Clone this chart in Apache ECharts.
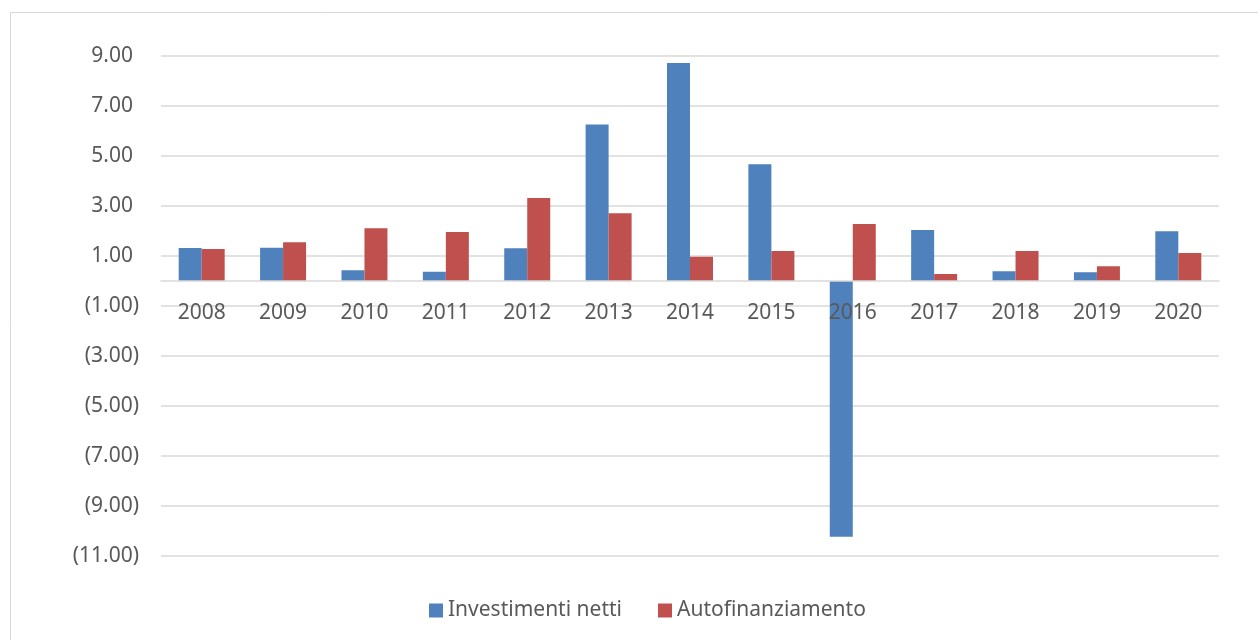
<!doctype html>
<html>
    <head>
        <meta charset="utf-8">
        <title>Investimenti netti / Autofinanziamento</title>
        <style>
            html, body { margin: 0; padding: 0; background: #fff; }
            #main { width: 1258px; height: 640px; }
        </style>
    </head>
    <body>
        <div id="main"></div>
        <script src="https://cdn.jsdelivr.net/npm/echarts@6/dist/echarts.min.js"></script>
        <script>
            var years = ['2008', '2009', '2010', '2011', '2012', '2013', '2014',
                         '2015', '2016', '2017', '2018', '2019', '2020'];
            var investimentiNetti = [1.32, 1.33, 0.43, 0.37, 1.31, 6.26, 8.72,
                                     4.67, -10.23, 2.04, 0.39, 0.35, 1.99];
            var autofinanziamento = [1.28, 1.55, 2.11, 1.96, 3.32, 2.71, 0.97,
                                     1.2, 2.28, 0.28, 1.2, 0.59, 1.12];
            var seriesNames = ['Investimenti netti', 'Autofinanziamento'];

            var textColor = '#595959';
            var fontFamily = '"Noto Sans", "Open Sans", sans-serif';

            // grid: top 56, height 500, y range -11..9 -> zero sits 275px above the bottom
            var gridTop = 56, gridHeight = 500, yMin = -11, yMax = 9;
            var zeroOffset = gridHeight * (0 - yMin) / (yMax - yMin);

            function fmt(v) {
                if (Math.abs(Math.round(v)) % 2 !== 1) {
                    return '';
                }
                if (v < 0) {
                    return '(' + Math.abs(v).toFixed(2) + ')';
                }
                return '{p|' + v.toFixed(2) + '}';
            }

            var chart = echarts.init(document.getElementById('main'), null, {
                devicePixelRatio: 1
            });

            chart.setOption({
                animation: false,
                backgroundColor: '#fff',
                textStyle: { fontFamily: fontFamily },
                graphic: [{
                    type: 'rect',
                    shape: { x: 10.5, y: 12.5, width: 1300, height: 700 },
                    style: { fill: 'none', stroke: '#d9d9d9', lineWidth: 1 },
                    silent: true
                }],
                grid: {
                    left: 161,
                    right: 39,
                    top: gridTop,
                    height: gridHeight
                },
                legend: {
                    top: 595,
                    left: 424,
                    itemWidth: 14,
                    itemHeight: 14,
                    itemGap: 36,
                    icon: 'rect',
                    textStyle: {
                        color: textColor,
                        fontSize: 21,
                        fontFamily: fontFamily
                    },
                    data: seriesNames
                },
                xAxis: {
                    type: 'category',
                    data: years,
                    position: 'bottom',
                    offset: -zeroOffset,
                    z: 5,
                    axisLine: {
                        onZero: false,
                        lineStyle: { color: '#d9d9d9', width: 1.5 }
                    },
                    axisTick: { show: false },
                    axisLabel: {
                        color: textColor,
                        fontSize: 21,
                        margin: 22,
                        fontFamily: fontFamily
                    }
                },
                yAxis: {
                    type: 'value',
                    min: yMin,
                    max: yMax,
                    interval: 1,
                    axisLine: { show: false },
                    axisTick: { show: false },
                    splitLine: {
                        lineStyle: {
                            color: ['#d9d9d9', 'rgba(0,0,0,0)'],
                            width: 1.5
                        }
                    },
                    axisLabel: {
                        color: textColor,
                        fontSize: 21,
                        margin: 22,
                        fontFamily: fontFamily,
                        formatter: fmt,
                        rich: {
                            p: {
                                color: textColor,
                                fontSize: 21,
                                fontFamily: fontFamily,
                                padding: [0, 6, 0, 0]
                            }
                        }
                    }
                },
                series: [{
                    name: seriesNames[0],
                    type: 'bar',
                    barWidth: 23,
                    barGap: '0%',
                    itemStyle: { color: '#4f81bd' },
                    data: investimentiNetti
                }, {
                    name: seriesNames[1],
                    type: 'bar',
                    barWidth: 23,
                    barGap: '0%',
                    itemStyle: { color: '#c0504d' },
                    data: autofinanziamento
                }]
            });

            window.onresize = chart.resize;
        </script>
    </body>
</html>
